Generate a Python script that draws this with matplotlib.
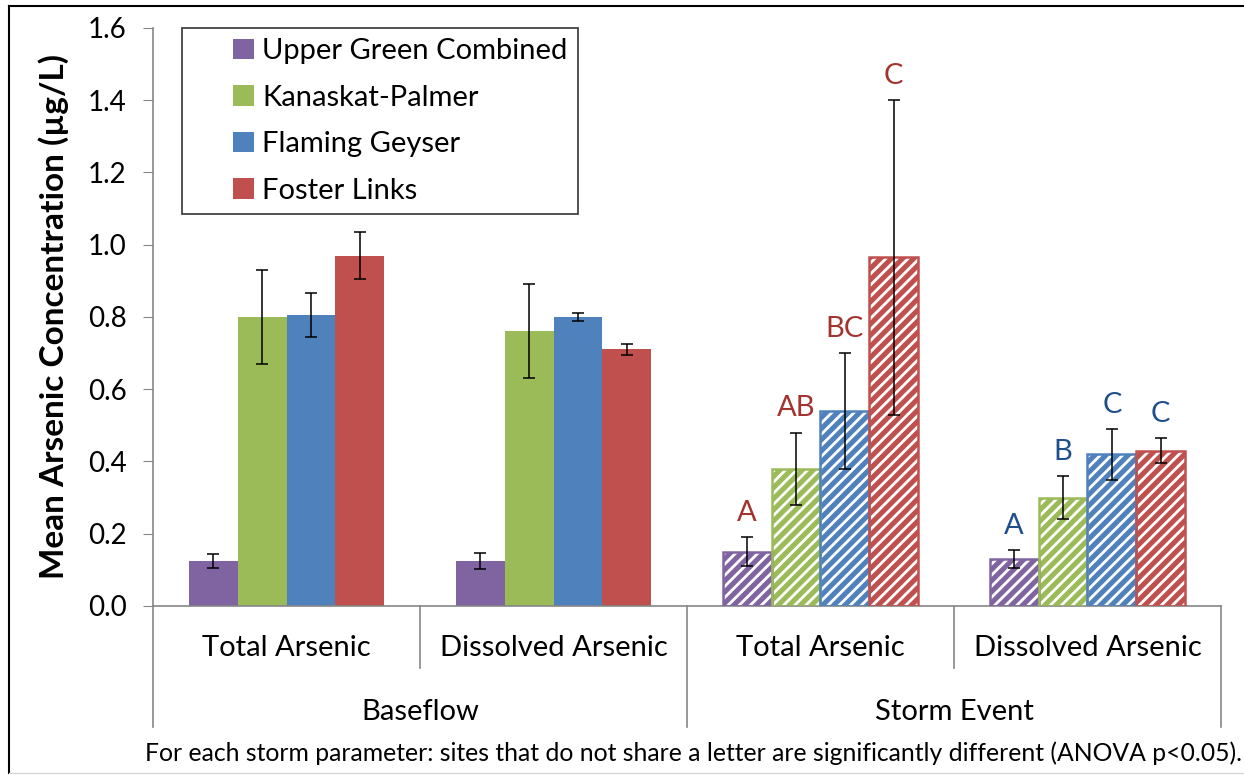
import numpy as np
import matplotlib
matplotlib.use('Agg')
import matplotlib.pyplot as plt
from matplotlib.lines import Line2D
from matplotlib.patches import Patch, Rectangle
from matplotlib.legend_handler import HandlerPatch
import matplotlib.transforms as mtransforms

plt.rcParams['font.family'] = ['Lato', 'DejaVu Sans']
plt.rcParams['hatch.linewidth'] = 2.0

sites = ['Upper Green Combined', 'Kanaskat-Palmer', 'Flaming Geyser', 'Foster Links']
colors = ['#8064A2', '#9BBB59', '#4F81BD', '#C0504D']
parameters = ['Total Arsenic', 'Dissolved Arsenic', 'Total Arsenic', 'Dissolved Arsenic']
conditions = ['Baseflow', 'Storm Event']

# rows = site, columns = category (baseflow total, baseflow dissolved, storm total, storm dissolved)
means = np.array([
    [0.125, 0.125, 0.15, 0.13],
    [0.80, 0.76, 0.38, 0.30],
    [0.805, 0.80, 0.54, 0.42],
    [0.97, 0.71, 0.965, 0.43],
])
errors = np.array([
    [0.02, 0.022, 0.04, 0.025],
    [0.13, 0.13, 0.10, 0.06],
    [0.06, 0.01, 0.16, 0.07],
    [0.065, 0.015, 0.435, 0.035],
])
letters_total = ['A', 'AB', 'BC', 'C']
letters_dissolved = ['A', 'B', 'C', 'C']


def square_right(legend, orig_handle, xdescent, ydescent, width, height, fontsize):
    # small square at the right end of the handle box, like Excel legends
    return Rectangle((-xdescent + width - height, -ydescent), height, height)


fig = plt.figure(figsize=(12.44, 7.75), dpi=100)
ax = fig.add_axes([0.123, 0.2181, 0.8585, 0.7458])

x = np.arange(len(parameters))
width = 0.183
for i, (site, c) in enumerate(zip(sites, colors)):
    pos = x + (i - 1.5) * width
    # baseflow: solid bars
    ax.bar(pos[:2], means[i, :2], width, color=c, linewidth=0, label=site, zorder=2)
    # storm: hatched bars with white stripes
    ax.bar(pos[2:], means[i, 2:], width, facecolor=c, edgecolor='white',
           hatch='///', linewidth=0, zorder=2)
    ax.bar(pos[2:], means[i, 2:], width, fill=False, edgecolor=c,
           linewidth=1.8, zorder=3)
    ax.errorbar(pos, means[i], yerr=errors[i], fmt='none', ecolor='black',
                elinewidth=1.1, capsize=4.5, capthick=1.1, zorder=4)
    tops = means[i] + errors[i]
    ax.annotate(letters_total[i], (pos[2], tops[2]), xytext=(0, 8),
                textcoords='offset points', ha='center', va='bottom',
                fontsize=21, color='#A3332F')
    ax.annotate(letters_dissolved[i], (pos[3], tops[3]), xytext=(0, 8),
                textcoords='offset points', ha='center', va='bottom',
                fontsize=21, color='#1F4E8C')

ax.set_xlim(-0.5, 3.5)
ax.set_ylim(0, 1.6)
ax.set_yticks(np.arange(0, 1.61, 0.2))
ax.set_yticklabels([f'{v:.1f}' for v in np.arange(0, 1.61, 0.2)], fontsize=20)
ax.set_xticks([])
ax.tick_params(axis='y', direction='out', length=7, color='#868686', pad=12)
for s in ['top', 'right']:
    ax.spines[s].set_visible(False)
for s in ['left', 'bottom']:
    ax.spines[s].set_color('#868686')
    ax.spines[s].set_linewidth(1.2)
ax.set_ylabel('Mean Arsenic Concentration (µg/L)', fontsize=24, fontweight='bold')
ax.yaxis.set_label_coords(-0.079, 0.5)

# two-level category axis
trans = mtransforms.blended_transform_factory(ax.transData, ax.transAxes)
for xs in [-0.5, 1.5, 3.5]:
    ax.add_line(Line2D([xs, xs], [0, -0.209], transform=trans, color='#868686',
                       linewidth=1.2, clip_on=False))
for xs in [0.5, 2.5]:
    ax.add_line(Line2D([xs, xs], [0, -0.107], transform=trans, color='#868686',
                       linewidth=1.2, clip_on=False))
for xi, lab in zip(x, parameters):
    ax.text(xi, -0.073, lab, transform=trans, ha='center', va='center', fontsize=21)
for xi, lab in zip([0.5, 2.5], conditions):
    ax.text(xi, -0.183, lab, transform=trans, ha='center', va='center', fontsize=21)

handles = [Patch(facecolor=c, edgecolor='none') for c in colors]
leg = ax.legend(handles, sites, loc='upper left', bbox_to_anchor=(0.027, 1.0),
                borderaxespad=0, fontsize=21, frameon=True, fancybox=False,
                edgecolor='black', handlelength=2.1, handleheight=0.7,
                handletextpad=0.3, labelspacing=0.7, borderpad=0.36,
                handler_map={Patch: HandlerPatch(patch_func=square_right)})
leg.get_frame().set_linewidth(1.2)

fig.text(0.5575, 0.028, 'For each storm parameter: sites that do not share a letter are '
         'significantly different (ANOVA p<0.05).', ha='center', va='center', fontsize=17.8)

# outer chart frame
fig.add_artist(Line2D([9 / 1244, 9 / 1244], [1 - 6 / 775, 1 - 773 / 775],
                      transform=fig.transFigure, color='black', linewidth=1.5))
fig.add_artist(Line2D([9 / 1244, 1.0], [1 - 6 / 775, 1 - 6 / 775],
                      transform=fig.transFigure, color='black', linewidth=1.5))
fig.add_artist(Line2D([9 / 1244, 1.0], [1 - 773 / 775, 1 - 773 / 775],
                      transform=fig.transFigure, color='#d9d9d9', linewidth=1))

fig.savefig('out.png', dpi=100)
